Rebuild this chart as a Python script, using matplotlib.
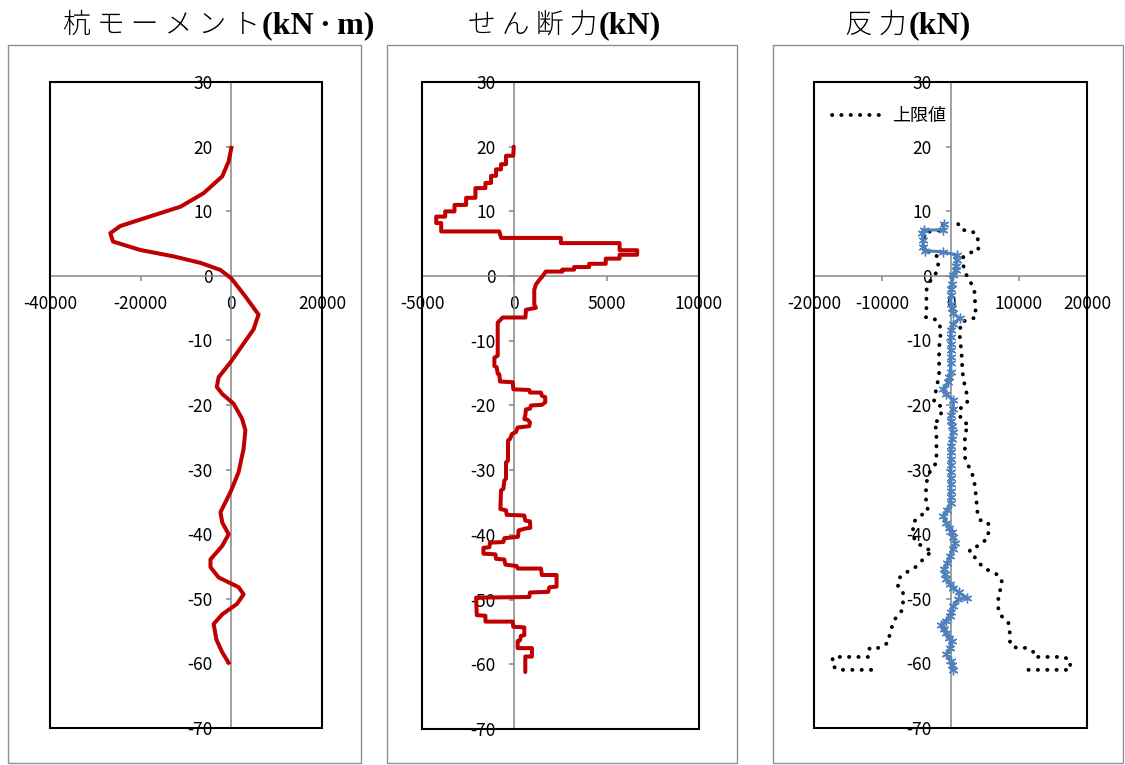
import matplotlib
matplotlib.use('Agg')
import matplotlib.pyplot as plt
from matplotlib.patches import Rectangle

# ---------------- data ----------------
y_ticks = [-70, -60, -50, -40, -30, -20, -10, 0, 10, 20, 30]
moment_xticks = [-40000, -20000, 0, 20000]
shear_xticks = [-5000, 0, 5000, 10000]
react_xticks = [-20000, -10000, 0, 10000, 20000]

titles_jp = ['杭 モ ー メ ン ト', 'せ ん 断 力', '反 力']
titles_en = ['(kN\u2009·\u2009m)', '(kN)', '(kN)']
legend_label = '上限値'

moment_x = [0, -600, -2000, -6100, -11200, -17900, -24500, -26700, -26100, -20100,
            -12700, -6800, -2400, 0, 3100, 6000, 4900, 2500, -200, -2800,
            -3200, -2000, 500, 2350, 3100, 2700, 1600, -200, -2400, -2000,
            -600, -2000, -4600, -4600, -2800, 1600, 2700, 1250, -2000, -3900,
            -3300, -2000, -600]
moment_y = [19.8, 17.7, 15.4, 12.8, 10.7, 9.2, 7.7, 6.6, 5.3, 4.0,
            3.0, 2.0, 0.9, -0.4, -3.2, -6.0, -8.3, -10.7, -13.4, -15.7,
            -17.2, -18.3, -19.8, -22.1, -23.9, -26.8, -30.4, -33.5, -36.6, -38.2,
            -40.0, -41.8, -43.9, -45.1, -46.7, -48.2, -49.3, -50.8, -52.4, -53.9,
            -56.3, -58.3, -59.9]

shear_x = [-30, -60, -450, -450, -720, -720, -990, -990, -1260, -1260,
           -1566, -1566, -2106, -2106, -2610, -2610, -3240, -3240, -3744, -3744,
           -4230, -4230, -3960, -3960, -810, -720, 2520, 2520, 5700, 5700,
           6650, 6650, 5700, 5700, 4950, 4950, 4050, 4050, 3240, 3240,
           2600, 2600, 1700, 1530, 1350, 1170, 1080, 1080, 1170, 630,
           600, -630, -900,
           -900, -1080, -1080, -954, -900, -810, -774, -90, -54, 810,
           846, 1440, 1494, 1674, 1674, 1494, 900, 846, 630, 594,
           540, 720, 846, 810, 180, 90, -126, -234, -342, -342,
           -450, -450, -540, -594, -720, -756, -450, -414, 540, 594,
           846, 864, 630, 234, 198, -540, -594, -1314, -1350, -1674,
           -1674, -1026, -990, -540, -486, 126, 180, 1440, 1494, 2286,
           2286, 1890, 1836, 846, 810, -2070, -2034, -1566, -1566, -90,
           -54, 540, 540, 360, 306, 180, 180, 954, 954, 594,
           594]
shear_y = [20.0, 18.6, 18.6, 17.3, 17.3, 16.5, 16.5, 15.5, 15.5, 14.4,
           14.4, 13.6, 13.6, 12.1, 12.1, 11.0, 11.0, 10.0, 10.0, 9.2,
           9.2, 8.2, 8.2, 6.9, 6.9, 5.9, 5.9, 5.1, 5.1, 4.0,
           4.0, 3.3, 3.3, 2.7, 2.7, 1.9, 1.9, 1.4, 1.4, 1.0,
           1.0, 0.7, 0.7, 0.0, -0.6, -1.3, -2.1, -4.4, -4.9, -5.2,
           -6.4, -6.4, -7.2,
           -12.3, -12.6, -13.9, -14.1, -15.1, -15.2, -16.3, -16.4, -17.5, -17.6,
           -18.0, -18.0, -18.5, -18.7, -19.5, -19.9, -20.0, -20.5, -20.6, -21.5,
           -22.1, -22.2, -22.6, -23.2, -23.4, -24.1, -24.4, -25.2, -25.4, -28.5,
           -28.8, -31.3, -31.6, -32.9, -33.1, -36.0, -36.2, -36.9, -37.0, -37.8,
           -37.9, -38.9, -39.0, -39.3, -40.3, -40.5, -41.1, -41.2, -41.9, -42.0,
           -42.9, -43.0, -43.7, -43.8, -44.6, -44.8, -45.2, -45.2, -46.2, -46.2,
           -48.0, -48.1, -48.8, -48.9, -49.6, -49.7, -52.4, -52.5, -53.4, -53.4,
           -54.2, -54.3, -55.5, -55.6, -56.3, -56.4, -57.5, -57.5, -58.8, -58.8,
           -61.2]

react_x = [-930, -1080, -3920, -4120, -4050, -4020, -3770, -1080, 880, 880,
           830, 780, 390, 150, 100, 50, 0, 200, 390, 1370,
           390, 100, 0, 0, 0, 0, 0, 0, -200, -340,
           -1080, -590, 390, 390, 0, 80, 150, 390, 150, 80,
           50, 0, 0, 0, 0, 0, 0, 0, 0, -500,
           -1080, -590, -200, 150, 400, 640, 300, -100, -500, -980,
           -800, -590, -100, 390, 1200, 2350, 1130, 390, 100, -100,
           -700, -1320, -1000, -590, -200, 150, -100, -590, 0, 200,
           390]
react_y = [8.0, 7.1, 7.1, 6.6, 5.5, 4.5, 3.9, 3.7, 3.2, 2.4,
           1.5, 0.9, 0.1, -1.2, -2.0, -3.0, -4.3, -5.0, -5.8, -6.6,
           -7.4, -8.4, -9.5, -10.5, -11.5, -12.5, -13.5, -14.9, -15.7, -16.5,
           -17.5, -18.3, -19.3, -20.6, -21.6, -22.4, -23.2, -24.2, -25.3, -26.3,
           -27.3, -28.3, -29.3, -30.3, -31.3, -32.3, -33.3, -34.3, -35.1, -36.2,
           -37.2, -38.2, -39.0, -39.7, -40.5, -41.3, -42.3, -43.4, -44.4, -45.4,
           -46.2, -47.0, -47.7, -48.3, -49.0, -49.8, -50.1, -51.1, -52.0, -52.7,
           -53.4, -54.0, -54.7, -55.3, -56.0, -56.6, -57.6, -58.6, -59.7, -60.3,
           -61.0]

limit_r_x = [1130, 1620, 2840, 3820, 4070, 4070, 2940, 1860, 1860, 2110,
             2840, 3230, 3580, 3580, 3720, 2840, 1620, 1370, 1370, 1520,
             1620, 1760, 2110, 2450, 2450, 1370, 1470, 2350, 2740, 2110,
             2110, 2110, 2600, 3090, 3580, 3820, 3820, 4310, 5540, 5540,
             4700, 4070, 2840, 2840, 3580, 4800, 6760, 7500, 7500, 7010,
             7010, 7500, 8480, 8720, 8720, 9700, 11170, 12400, 12400, 16560,
             17540, 17540, 10440]
limit_r_y = [8.0, 7.1, 7.0, 6.5, 5.3, 3.9, 3.6, 2.9, 1.7, 0.5,
             -0.7, -1.7, -2.7, -3.8, -6.4, -6.8, -7.1, -8.4, -9.5, -11.0,
             -12.1, -14.9, -17.2, -18.5, -19.7, -20.6, -22.2, -22.9, -23.3, -24.2,
             -26.8, -28.1, -29.4, -30.2, -32.5, -35.1, -36.1, -37.8, -38.2, -40.5,
             -41.3, -41.8, -42.3, -43.1, -43.6, -45.2, -46.2, -47.0, -48.3, -49.1,
             -51.9, -52.7, -53.7, -55.5, -57.1, -57.6, -57.6, -58.4, -59.0, -59.0,
             -59.5, -61.0, -61.0]
limit_l_x = [-1080, -1320, -2650, -3770, -4020, -3920, -2790, -1810, -1810, -2060,
             -2790, -3530, -3530, -3630, -2450, -1570, -1470, -1670, -1670, -1670,
             -2060, -2300, -2450, -1180, -1570, -2550, -2160, -2060, -2060, -2060,
             -3040, -3530, -3630, -3530, -3280, -4510, -5490, -5490, -5240, -4260,
             -3530, -2650, -3920, -5240, -6960, -7690, -7690, -6960, -6960, -8180,
             -8920, -9020, -10390, -11860, -11960, -17250, -17350, -16510, -10880]
limit_l_y = [8.0, 7.0, 7.0, 6.6, 5.1, 3.8, 3.6, 2.9, 1.7, 0.5,
             -0.4, -2.2, -5.1, -6.4, -6.6, -7.4, -9.5, -11.0, -13.1, -15.2,
             -17.5, -18.5, -19.7, -20.3, -22.2, -22.9, -23.5, -24.5, -27.3, -28.9,
             -30.4, -32.0, -34.1, -35.3, -36.4, -37.2, -38.2, -39.7, -41.0, -41.8,
             -42.3, -42.5, -43.8, -45.2, -46.2, -47.0, -48.3, -49.1, -51.6, -53.2,
             -55.3, -56.7, -57.6, -57.6, -59.0, -59.0, -60.3, -61.0, -61.0]

# ---------------- styling ----------------
plt.rcParams['axes.unicode_minus'] = False
plt.rcParams['font.family'] = ['Noto Sans CJK JP', 'DejaVu Sans']

W, H = 1125, 765
fig = plt.figure(figsize=(11.25, 7.65), dpi=100)


def fx(px):
    return px / W


def fy(py):
    return 1 - py / H


RED = '#C00000'
BLUE = '#4F81BD'
GRAY = '#868686'

# outer chart frames
for x0, x1 in [(8, 361), (387, 737), (773, 1123)]:
    fig.add_artist(Rectangle((fx(x0), fy(763)), (x1 - x0) / W, (763 - 45) / H,
                             transform=fig.transFigure, fill=False,
                             ec='#8f8f8f', lw=1.0))


def make_ax(left, right, top, bottom, xlim, xticks):
    ax = fig.add_axes([fx(left), fy(bottom), (right - left) / W, (bottom - top) / H])
    ax.set_xlim(*xlim)
    ax.set_ylim(-70, 30)
    ax.set_xticks(xticks)
    ax.set_yticks(y_ticks)
    for s in ['top', 'right']:
        ax.spines[s].set_visible(False)
    for s in ['left', 'bottom']:
        ax.spines[s].set_position(('data', 0))
        ax.spines[s].set_color(GRAY)
        ax.spines[s].set_linewidth(1.1)
    ax.tick_params(axis='both', colors=GRAY, labelcolor='black', labelsize=12.5,
                   length=3.6, width=1.1, direction='out', pad=10)
    ax.add_patch(Rectangle((0, 0), 1, 1, transform=ax.transAxes, fill=False,
                           ec='black', lw=1.5, clip_on=False, zorder=5))
    return ax


def title(split_px, jp, en):
    fig.text(fx(split_px), fy(33), jp, ha='right', va='baseline', fontsize=20,
             family=['Noto Sans CJK JP', 'DejaVu Sans'], weight='light')
    fig.text(fx(split_px + 2), fy(33), en, ha='left', va='baseline', fontsize=23,
             family=['Liberation Serif', 'DejaVu Serif'], weight='bold')


# panel 1: moment
ax1 = make_ax(50, 322, 82, 728, (-40000, 20000), moment_xticks)
ax1.plot(moment_x, moment_y, color=RED, lw=2.9, zorder=3, solid_joinstyle='round')

# panel 2: shear
ax2 = make_ax(422, 699, 82, 729, (-5000, 10000), shear_xticks)
ax2.plot(shear_x, shear_y, color=RED, lw=2.9, zorder=3, solid_joinstyle='round',
         solid_capstyle='round')

# panel 3: reaction
ax3 = make_ax(814, 1087, 82, 728, (-20000, 20000), react_xticks)
dot_style = dict(color='black', lw=2.8, linestyle=(0, (0.05, 2.35)),
                 dash_capstyle='round', zorder=3)
ax3.plot(limit_r_x, limit_r_y, label=legend_label, **dot_style)
ax3.plot(limit_l_x, limit_l_y, **dot_style)
ax3.plot(react_x, react_y, color=BLUE, lw=2.2, marker=(6, 2, 0), markersize=7,
         markeredgewidth=1.0, markeredgecolor=BLUE, zorder=4)
leg = ax3.legend(loc='center left', bbox_to_anchor=((832 - 814) / 273, 1 - (116 - 82) / 646),
                 frameon=False, fontsize=13, handlelength=2.65, handletextpad=0.7,
                 borderpad=0, borderaxespad=0)

title(260, titles_jp[0], titles_en[0])
title(597, titles_jp[1], titles_en[1])
title(907, titles_jp[2], titles_en[2])

fig.savefig('out.png', dpi=100)
